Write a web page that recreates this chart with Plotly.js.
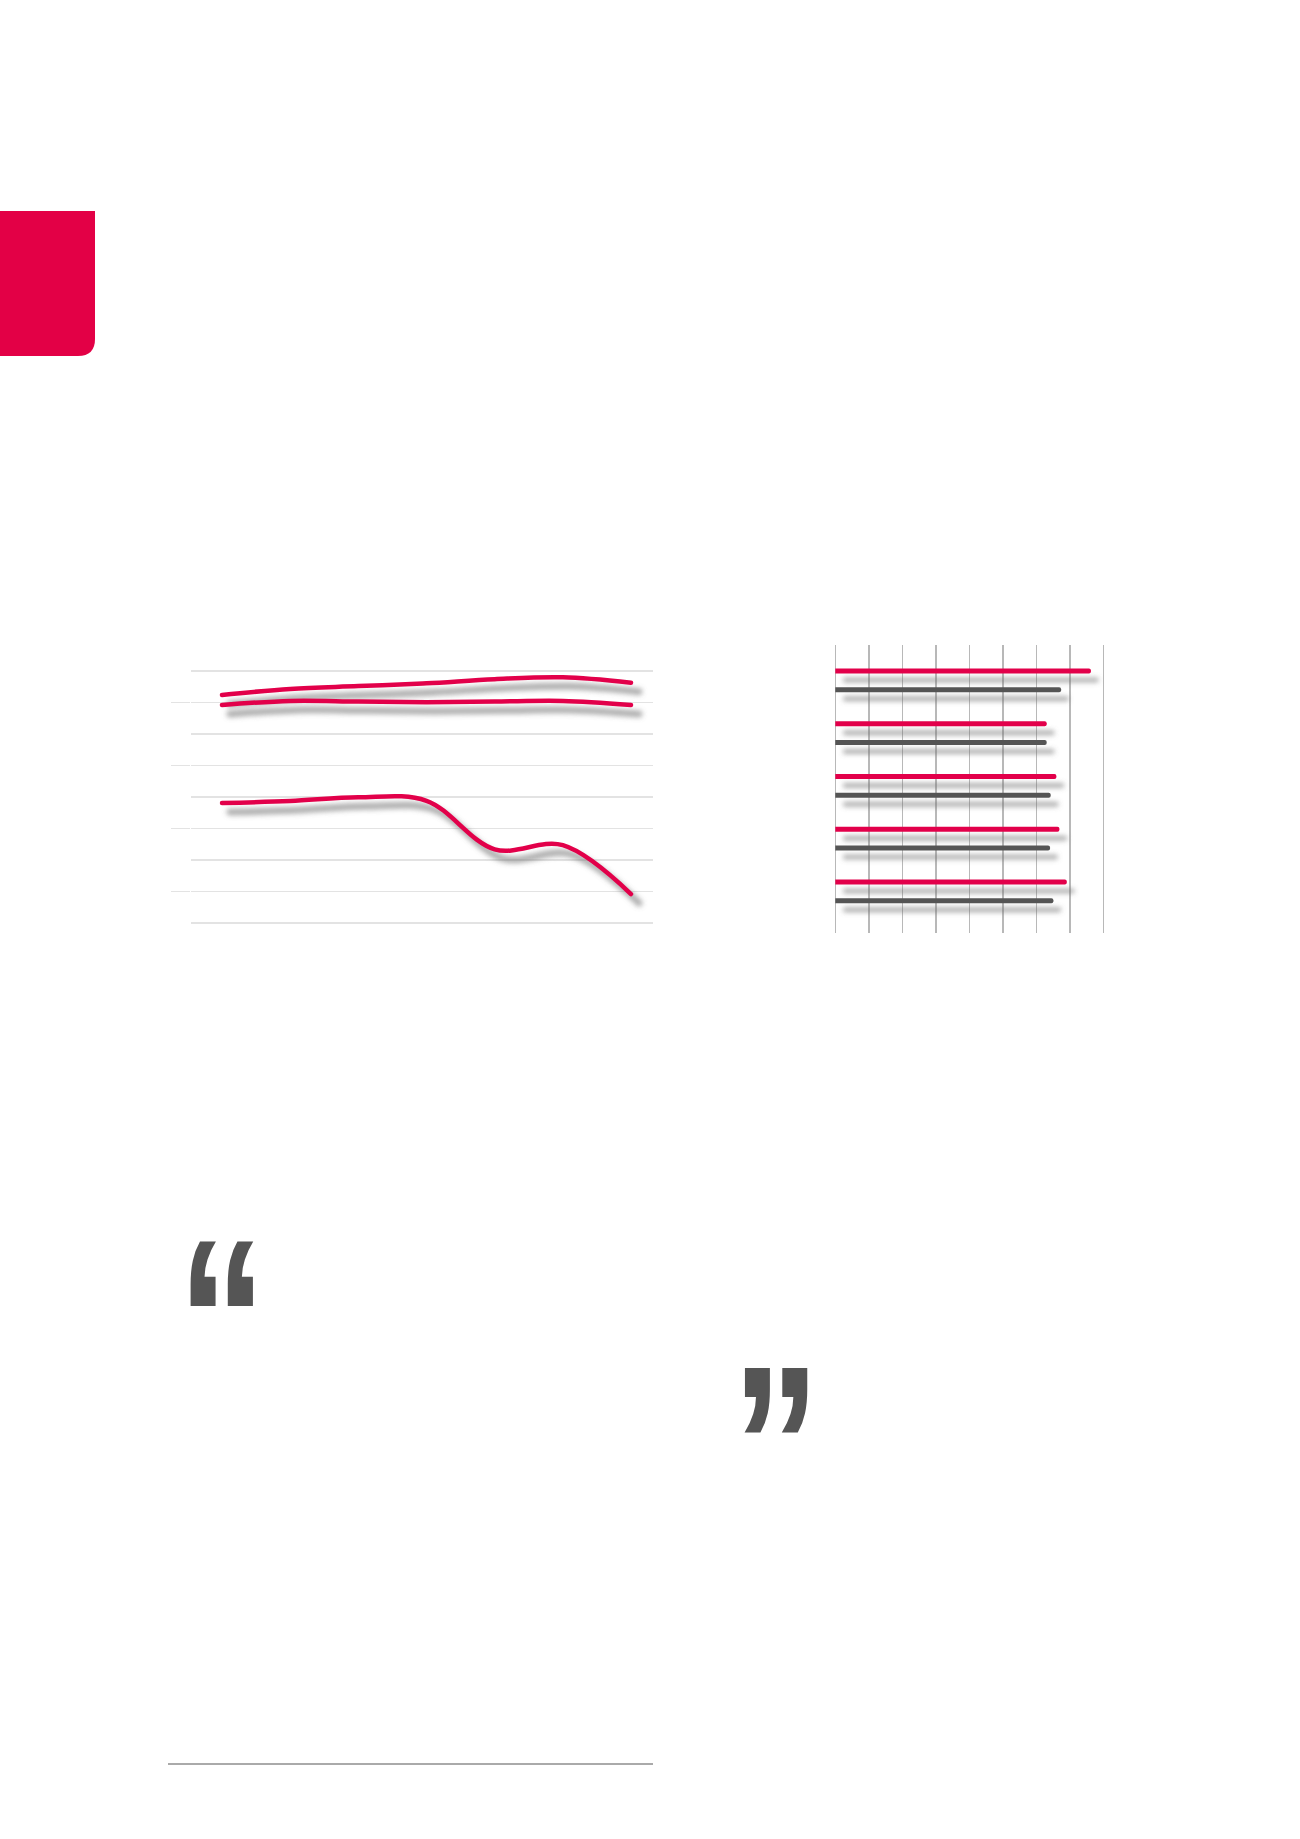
<!DOCTYPE html>
<html>
<head>
<meta charset="utf-8">
<script src="https://cdn.plot.ly/plotly-3.0.1.min.js"></script>
<style>
html,body{margin:0;padding:0;background:#fff;}
#chart{width:1300px;height:1839px;}
</style>
</head>
<body>
<div id="chart"></div>
<script>
// ---------- data ----------
var years = [2012, 2013, 2014, 2015, 2016, 2017, 2018];
var seriesTop = [7.24, 7.43, 7.52, 7.61, 7.74, 7.80, 7.63];
var seriesMid = [6.92, 7.05, 7.03, 7.01, 7.03, 7.05, 6.92];
var seriesLow = [3.81, 3.87, 3.99, 3.88, 2.34, 2.47, 0.92];

var barCategories = ['Cat 1', 'Cat 2', 'Cat 3', 'Cat 4', 'Cat 5'];
var barRed  = [76.3, 63.1, 66.0, 66.9, 69.1];
var barGray = [67.4, 63.1, 64.3, 64.1, 65.1];

var quoteOpen = '\u201C';
var quoteClose = '\u201D';

// ---------- page geometry ----------
var W = 1300, H = 1839;
function fx(px){ return px / W; }
function fy(py){ return 1 - py / H; }

var RED = '#e2004a';
var GRAY = '#555555';
var SHADOW = 'rgba(110,110,110,0.55)';

// line chart axes ranges (real) and shadow offset (+8px right, +9px down)
var lx = [2011.545, 2018.323], ly = [-0.381, 8.349];
var ldx = 8 / 68.17, ldy = 9 / 31.5;
// bar chart
var bx = [-1.58, 81.4], by = [4.79, -0.669];
var bdx = 8 / 3.35, bdy = 9 / 52.75;

var data = [];
// line shadows (base subplot)
[seriesTop, seriesMid, seriesLow].forEach(function(s){
  data.push({type:'scatter', mode:'lines', x:years, y:s, xaxis:'x', yaxis:'y', meta:'shadow',
    line:{color:SHADOW, width:7, shape:'spline', smoothing:1}, hoverinfo:'skip', showlegend:false});
});
// real lines (overlay subplot)
[seriesTop, seriesMid, seriesLow].forEach(function(s){
  data.push({type:'scatter', mode:'lines', x:years, y:s, xaxis:'x2', yaxis:'y2',
    line:{color:RED, width:4.5, shape:'spline', smoothing:1}, showlegend:false});
});
// bar shadows (base subplot)
data.push({type:'bar', orientation:'h', x:barRed, y:barCategories, xaxis:'x3', yaxis:'y3', meta:'shadow',
  marker:{color:SHADOW}, showlegend:false, hoverinfo:'skip'});
data.push({type:'bar', orientation:'h', x:barGray, y:barCategories, xaxis:'x3', yaxis:'y3', meta:'shadow',
  marker:{color:SHADOW}, showlegend:false, hoverinfo:'skip'});
// real bars
data.push({type:'bar', orientation:'h', x:barRed, y:barCategories, xaxis:'x4', yaxis:'y4',
  marker:{color:RED}, showlegend:false});
data.push({type:'bar', orientation:'h', x:barGray, y:barCategories, xaxis:'x4', yaxis:'y4',
  marker:{color:GRAY}, showlegend:false});

var hidden = {showgrid:false, zeroline:false, showline:false, showticklabels:false, ticks:''};
function ax(extra){ return Object.assign({}, hidden, extra); }

var lineDomX = [fx(191), fx(653)], lineDomY = [fy(935), fy(660)];
var barDomX = [fx(830), fx(1108)], barDomY = [fy(933), fy(645)];

var quoteFont = {family:'Liberation Sans, Arial, sans-serif', size:228, color:'#555555', weight:'bold'};

var layout = {
  width: W, height: H,
  margin: {l:0, r:0, t:0, b:0},
  paper_bgcolor: '#ffffff', plot_bgcolor: 'rgba(0,0,0,0)',
  showlegend: false,
  barmode: 'group', bargap: 0.291, bargroupgap: 0.733, barcornerradius: 3,
  font: {family: 'Liberation Sans, sans-serif', color: '#555555'},
  xaxis: ax({domain: lineDomX, range: [lx[0]-ldx, lx[1]-ldx], anchor:'y'}),
  yaxis: ax({domain: lineDomY, range: [ly[0]+ldy, ly[1]+ldy], anchor:'x'}),
  xaxis2: ax({overlaying:'x', range: lx, anchor:'y2'}),
  yaxis2: ax({overlaying:'y', range: ly, anchor:'x2', side:'left',
    showgrid:true, gridcolor:'#e3e3e3', gridwidth:1.5,
    ticks:'outside', ticklen:19, tickwidth:1.5, tickcolor:'#e3e3e3',
    tickmode:'linear', tick0:1, dtick:2,
    minor:{tickmode:'linear', tick0:0, dtick:1, showgrid:true, gridcolor:'#e3e3e3', gridwidth:1.5, ticks:''}}),
  xaxis3: ax({domain: barDomX, range: [bx[0]-bdx, bx[1]-bdx], anchor:'y3'}),
  yaxis3: ax({domain: barDomY, range: [by[0]-bdy, by[1]-bdy], anchor:'x3', type:'category'}),
  xaxis4: ax({overlaying:'x3', range: bx, anchor:'y4',
    showgrid:true, gridcolor:'#b8b8b8', gridwidth:1.5, tickmode:'linear', tick0:0, dtick:10}),
  yaxis4: ax({overlaying:'y3', range: by, anchor:'x4', type:'category'}),
  shapes: [
    {type:'path', xref:'paper', yref:'paper', layer:'below', line:{width:0}, fillcolor:'#e30046',
      path: 'M ' + fx(-5) + ',' + fy(211) + ' L ' + fx(95) + ',' + fy(211) + ' L ' + fx(95) + ',' + fy(339) +
            ' Q ' + fx(95) + ',' + fy(356) + ' ' + fx(78) + ',' + fy(356) + ' L ' + fx(-5) + ',' + fy(356) + ' Z'},
    {type:'line', xref:'paper', yref:'paper', x0:fx(168), x1:fx(653), y0:fy(1764), y1:fy(1764),
      line:{color:'#aaaaaa', width:2}}
  ],
  annotations: [
    {xref:'paper', yref:'paper', x:fx(222), y:fy(1320), xanchor:'center', yanchor:'middle', showarrow:false,
      text: quoteOpen, font: quoteFont},
    {xref:'paper', yref:'paper', x:fx(776), y:fy(1446), xanchor:'center', yanchor:'middle', showarrow:false,
      text: quoteClose, font: quoteFont}
  ]
};

var gd = document.getElementById('chart');
Plotly.newPlot(gd, data, layout, {staticPlot:true, displayModeBar:false}).then(function(){
  var ns = 'http://www.w3.org/2000/svg';
  var svg = gd.querySelector('svg.main-svg');
  var defs = svg.querySelector('defs') || svg.insertBefore(document.createElementNS(ns,'defs'), svg.firstChild);
  var f = document.createElementNS(ns, 'filter');
  f.setAttribute('id', 'softshadow');
  f.setAttribute('filterUnits', 'userSpaceOnUse');
  f.setAttribute('x', '-3000'); f.setAttribute('y', '-3000');
  f.setAttribute('width', '8000'); f.setAttribute('height', '8000');
  var blur = document.createElementNS(ns, 'feGaussianBlur');
  blur.setAttribute('stdDeviation', '2.6');
  f.appendChild(blur); defs.appendChild(f);
  gd.querySelectorAll('g.trace').forEach(function(g){
    var d = g.__data__;
    var t = d && d[0] && d[0].trace;
    if (t && t.meta === 'shadow') g.setAttribute('filter', 'url(#softshadow)');
  });
  gd.querySelectorAll('.scatterlayer path.js-line').forEach(function(p){
    p.style.strokeLinecap = 'round';
    p.style.strokeLinejoin = 'round';
  });
  // narrow the quotation marks horizontally, keeping them as text
  gd.querySelectorAll('.annotation-text-g text').forEach(function(t){
    try {
      var bb = t.getBBox();
      var cx = bb.x + bb.width / 2;
      t.setAttribute('transform', 'translate(' + cx + ',0) scale(0.78,1) translate(' + (-cx) + ',0)');
    } catch (e) {}
  });
});
</script>
</body>
</html>
